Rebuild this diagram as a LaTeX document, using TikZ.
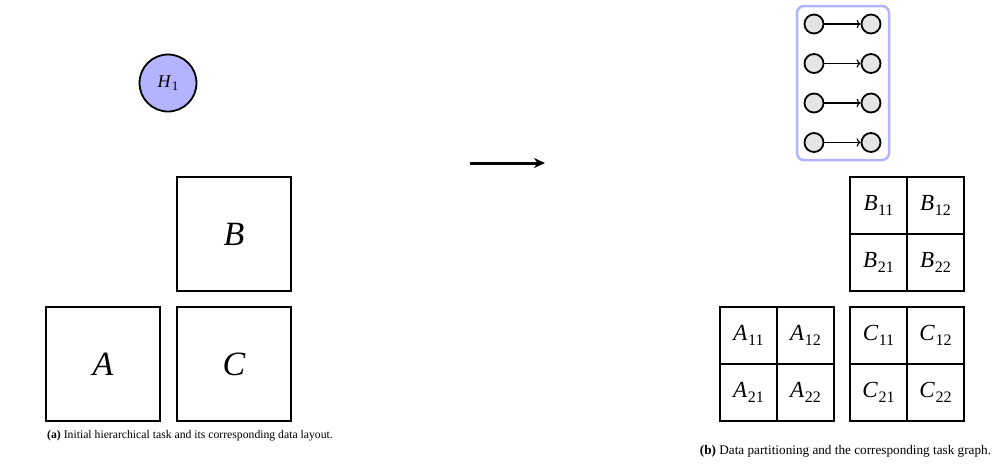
\documentclass[tikz,border=0pt]{standalone}
\usepackage{fontspec}
\setmainfont{Liberation Serif}
\usepackage{tikz}
\usetikzlibrary{shapes,arrows,arrows.meta,positioning}

\definecolor{taskblue}{RGB}{179,179,255}
\newcommand{\blk}[3][16]{\textit{#2}\kern0.5pt\raisebox{-0.2em}{\fontsize{#1}{#1}\selectfont #3}}

\begin{document}
\begin{tikzpicture}[x=1pt, y=-1pt,
    bigbox/.style={rectangle, draw, line width=1.6pt, minimum size=114pt, font=\fontsize{34}{36}\selectfont\itshape},
    cell/.style={rectangle, draw, line width=1.6pt, minimum size=57pt, font=\fontsize{23}{25}\selectfont},
    task/.style={circle, draw, line width=1.8pt, fill=gray!20, minimum size=19pt, inner sep=0pt},
    caption/.style={font=\fontsize{11.7}{13}\selectfont}]
    \useasboundingbox (0,0) rectangle (994,464);

    % Initial hierarchical task and its data
    \node[circle, draw, line width=1.8pt, fill=taskblue, minimum size=57pt, font=\fontsize{18}{20}\selectfont] (hone) at (168,83) {\blk[13]{H}{1}};

    \node[bigbox] (bigB) at (234,234) {B};
    \node[bigbox] (bigA) at (103,364) {A};
    \node[bigbox] (bigC) at (234,364) {C};

    \node[caption] (capa) at (190,436) {\textbf{(a)} Initial hierarchical task and its corresponding data layout.};

    % Transition arrow
    \coordinate (src) at (470,163);
    \coordinate (dst) at (545,163);
    \draw[line width=3pt, -{Stealth[length=11pt, width=10pt]}] (src) -- (dst);

    % Task graph
    \node[rectangle, rounded corners=7pt, draw=taskblue, line width=2.5pt, minimum width=92pt, minimum height=154pt] (graph) at (843,83) {};
    \foreach \i/\y in {1/24, 2/63.5, 3/103, 4/142.5} {
        \node[task] (l\i) at (814,\y) {};
        \node[task] (r\i) at (871,\y) {};
        \draw[line width=1.1pt, ->] (l\i) -- (r\i);
    }

    % Partitioned data
    \foreach \m/\x/\y in {A/720/307, B/850/177, C/850/307} {
        \node[cell] (\m11) at (\x+28.5,\y+28.5) {\blk{\m}{11}};
        \node[cell] (\m12) at (\x+85.5,\y+28.5) {\blk{\m}{12}};
        \node[cell] (\m21) at (\x+28.5,\y+85.5) {\blk{\m}{21}};
        \node[cell] (\m22) at (\x+85.5,\y+85.5) {\blk{\m}{22}};
    }

    \node[caption, font=\fontsize{13.2}{15}\selectfont] (capb) at (845.5,451) {\textbf{(b)} Data partitioning and the corresponding task graph.};

\end{tikzpicture}
\end{document}
